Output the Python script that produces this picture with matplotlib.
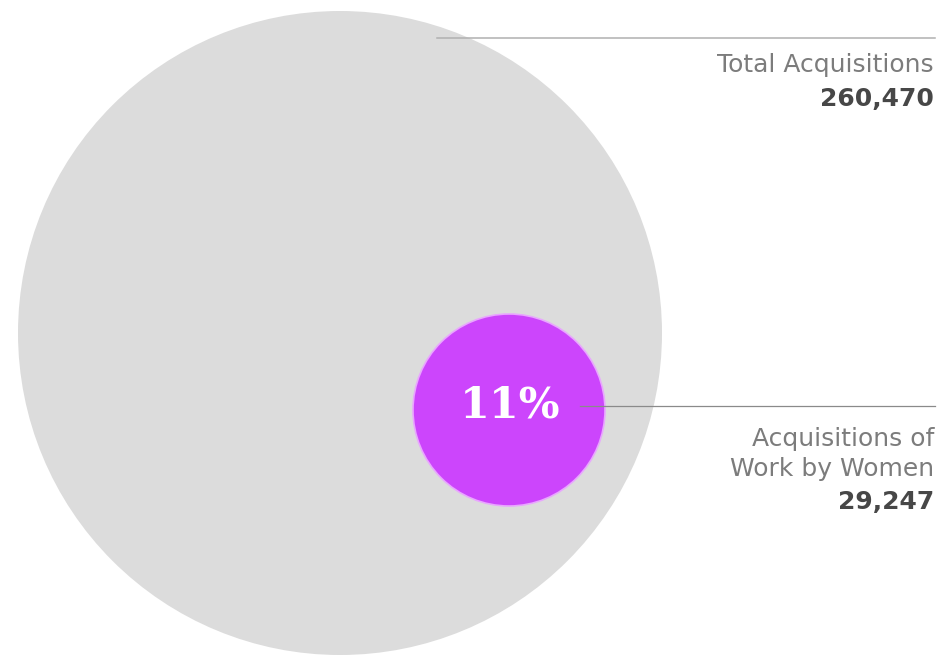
import matplotlib
matplotlib.use('Agg')
import matplotlib.pyplot as plt
from matplotlib.patches import Circle

# values
total_label = 'Total Acquisitions'
women_label = ['Acquisitions of', 'Work by Women']
counts = [260470, 29247]
pct = round(100 * counts[1] / counts[0])

grey = '#dcdcdc'
purple = '#cc45fc'
text_grey = '#7c7c7c'
num_grey = '#474747'
line_grey = '#b0b0b0'

fig = plt.figure(figsize=(9.44, 6.57), dpi=100)
ax = fig.add_axes([0, 0, 1, 1])
ax.set_xlim(0, 944)
ax.set_ylim(657, 0)
ax.set_aspect('equal')
ax.axis('off')

# big circle (total) and small circle (women)
ax.add_patch(Circle((340, 333), 322, color=grey, lw=0, zorder=1))
ax.add_patch(Circle((509, 410), 96, facecolor=purple, edgecolor='#e9a6ff', lw=1.2, zorder=2))

ax.text(510, 406, f'{pct}%', ha='center', va='center', color='white',
        fontsize=31, fontweight='bold', family='DejaVu Serif', zorder=4)

# leader lines
ax.plot([437, 935], [38, 38], color=line_grey, lw=1.1, zorder=3)
ax.plot([580, 935], [406, 406], color='#8a8a8a', lw=0.9, zorder=3)

# labels
fs = 18
ax.text(934, 72, total_label, ha='right', va='baseline', color=text_grey, fontsize=fs)
ax.text(934, 106, f'{counts[0]:,}', ha='right', va='baseline', color=num_grey,
        fontsize=fs, fontweight='bold')

ax.text(934, 446, women_label[0], ha='right', va='baseline', color=text_grey, fontsize=fs)
ax.text(934, 476, women_label[1], ha='right', va='baseline', color=text_grey, fontsize=fs)
ax.text(934, 509, f'{counts[1]:,}', ha='right', va='baseline', color=num_grey,
        fontsize=fs, fontweight='bold')

fig.savefig('out.png', dpi=100, facecolor='white')
